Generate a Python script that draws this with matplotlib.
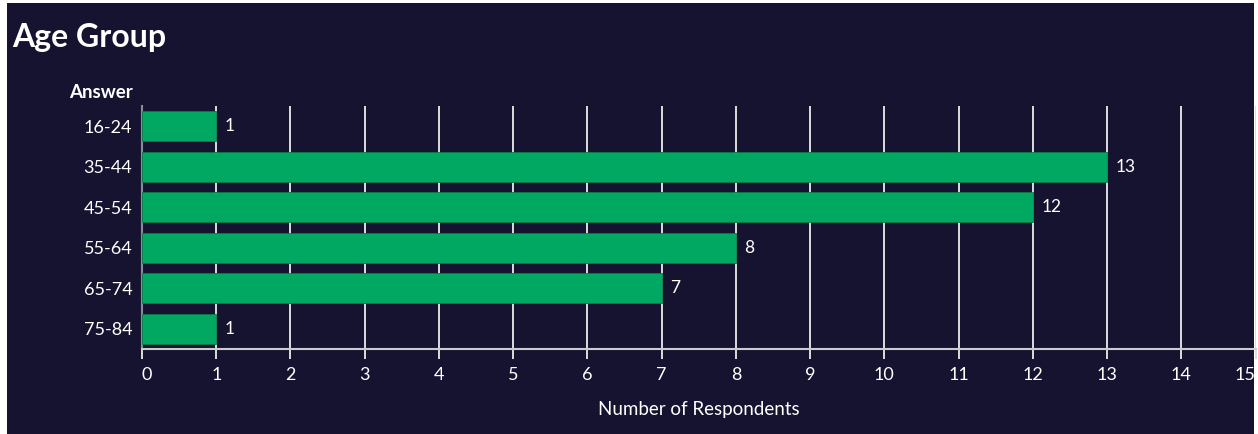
import matplotlib
matplotlib.use("Agg")
import matplotlib.pyplot as plt
from matplotlib.patches import Rectangle

answers = ["16-24", "35-44", "45-54", "55-64", "65-74", "75-84"]
respondents = [1, 13, 12, 8, 7, 1]
x_ticks = list(range(0, 16))

bg = "#15132f"
green = "#00a862"

plt.rcParams["font.family"] = ["Lato", "DejaVu Sans"]

fig = plt.figure(figsize=(12.58, 4.34), dpi=100, facecolor="white")
# dark panel behind everything
fig.patches.append(Rectangle((7 / 1258, 0), 1247 / 1258, 431 / 434,
                             transform=fig.transFigure, facecolor=bg,
                             edgecolor="none", zorder=-10))

ax = fig.add_axes([142 / 1258, 1 - 349 / 434, 1113.5 / 1258, 243 / 434])
ax.set_facecolor(bg)
ax.patch.set_alpha(0)

y = list(range(len(answers)))
bars = ax.barh(y, respondents, height=0.74, color=green,
               edgecolor="#0a7a4a", linewidth=0.6, zorder=3)
ax.bar_label(bars, labels=[str(v) for v in respondents], padding=6,
             color="white", fontsize=12.5, zorder=4)

ax.set_xlim(0, 15)
ax.set_ylim(len(answers) - 0.5, -0.5)
ax.set_yticks(y)
ax.set_yticklabels(answers)
ax.set_xticks(x_ticks)
ax.set_xticklabels([str(t) for t in x_ticks])

ax.grid(axis="x", color="#dddddd", linewidth=1.4, zorder=0)
ax.set_axisbelow(True)

for s in ["top", "right"]:
    ax.spines[s].set_visible(False)
ax.spines["left"].set_color("#8a8a9a")
ax.spines["left"].set_linewidth(1.5)
ax.spines["bottom"].set_color("#cccccc")
ax.spines["bottom"].set_linewidth(1.5)

ax.tick_params(axis="y", length=0, pad=7, labelsize=13, labelcolor="white")
ax.tick_params(axis="x", length=7, width=1.4, color="#dddddd", pad=6,
               labelsize=13, labelcolor="white")

xl = ax.get_xticklabels()
xl[0].set_horizontalalignment("left")
xl[-1].set_horizontalalignment("right")

ax.set_xlabel("Number of Respondents", color="white", fontsize=13.5,
              labelpad=13)

fig.text(12 / 1258, 1 - 38 / 434, "Age Group", color="white", fontsize=23,
         fontweight="bold", va="center", ha="left")
fig.text(133 / 1258, 1 - 93 / 434, "Answer", color="white", fontsize=13.5,
         fontweight="bold", va="center", ha="right")

fig.savefig("out.png", dpi=100, facecolor="white")
